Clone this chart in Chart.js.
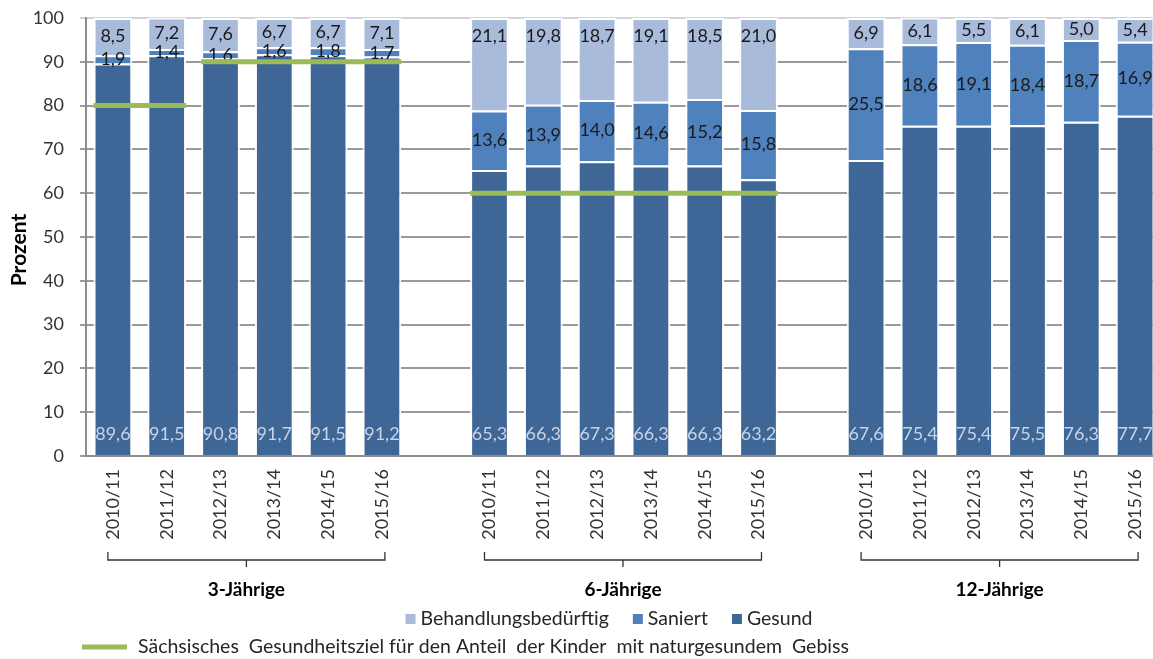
<!DOCTYPE html>
<html>
<head>
<meta charset="utf-8">
<script src="https://cdn.jsdelivr.net/npm/chart.js@4.4.0/dist/chart.umd.min.js"></script>
<style>
  html, body { margin: 0; padding: 0; background: #fff; overflow: hidden; }
  #wrap { width: 1153px; height: 659px; overflow: hidden; position: relative; }
  #box { width: 1162px; height: 659px; position: absolute; left: 0; top: 0; }
</style>
</head>
<body>
<div id="wrap"><div id="box"><canvas id="zahnChart"></canvas></div></div>
<script>
// Schuljahre je Altersgruppe, leere Kategorie als Abstand zwischen den Gruppen
const years = ['2010/11', '2011/12', '2012/13', '2013/14', '2014/15', '2015/16'];
const categories = [...years, '', ...years, '', ...years];

const groups = [
  { label: '3-Jährige', from: 0, to: 5 },
  { label: '6-Jährige', from: 7, to: 12 },
  { label: '12-Jährige', from: 14, to: 19 }
];

// Werte in Prozent
const gesund      = [89.6, 91.5, 90.8, 91.7, 91.5, 91.2, null, 65.3, 66.3, 67.3, 66.3, 66.3, 63.2, null, 67.6, 75.4, 75.4, 75.5, 76.3, 77.7];
const saniert     = [1.9, 1.4, 1.6, 1.6, 1.8, 1.7, null, 13.6, 13.9, 14.0, 14.6, 15.2, 15.8, null, 25.5, 18.6, 19.1, 18.4, 18.7, 16.9];
const behandlung  = [8.5, 7.2, 7.6, 6.7, 6.7, 7.1, null, 21.1, 19.8, 18.7, 19.1, 18.5, 21.0, null, 6.9, 6.1, 5.5, 6.1, 5.0, 5.4];

// Sächsisches Gesundheitsziel (naturgesundes Gebiss)
const ziel = [80, 80, 90, 90, 90, 90, null, 60, 60, 60, 60, 60, 60, null, null, null, null, null, null, null];

const yTicks = [0, 10, 20, 30, 40, 50, 60, 70, 80, 90, 100];

const FONT = 'Lato, "Open Sans", sans-serif';
const colors = {
  behandlung: '#a9bbdb',
  saniert: '#4f81bd',
  gesund: '#3e6697',
  ziel: '#9bbb59'
};

function fmt(v) {
  return v.toFixed(1).replace('.', ',');
}

// Beschriftung der Balkensegmente
const labelPlugin = {
  id: 'segmentLabels',
  afterDatasetsDraw(chart) {
    const ctx = chart.ctx;
    ctx.save();
    ctx.font = '18px ' + FONT;
    ctx.textAlign = 'center';
    ctx.textBaseline = 'middle';
    chart.data.datasets.forEach((ds, di) => {
      const meta = chart.getDatasetMeta(di);
      meta.data.forEach((bar, i) => {
        const v = ds.data[i];
        if (v == null) return;
        const { x, y, base } = bar.getProps(['x', 'y', 'base'], true);
        let ty;
        if (ds.key === 'gesund') {
          ctx.fillStyle = '#c9d3e6';
          ty = base - 21;
        } else if (ds.key === 'saniert') {
          ctx.fillStyle = '#1a1a1a';
          ty = (y + base) / 2;
        } else {
          ctx.fillStyle = '#1a1a1a';
          ty = (base - y) > 36 ? y + 18 : (y + base) / 2;
        }
        ctx.fillText(fmt(v), x, ty);
      });
    });
    ctx.restore();
  }
};

// Zielwert-Linie über die Balkenbreite
const zielPlugin = {
  id: 'zielLinie',
  afterDatasetsDraw(chart) {
    const ctx = chart.ctx;
    const yScale = chart.scales.y;
    const meta = chart.getDatasetMeta(0);
    ctx.save();
    ctx.strokeStyle = colors.ziel;
    ctx.lineWidth = 5;
    let i = 0;
    while (i < ziel.length) {
      if (ziel[i] == null) { i++; continue; }
      let j = i;
      while (j + 1 < ziel.length && ziel[j + 1] === ziel[i]) j++;
      const b1 = meta.data[i], b2 = meta.data[j];
      const x1 = b1.x - b1.width / 2;
      const x2 = b2.x + b2.width / 2;
      const yy = yScale.getPixelForValue(ziel[i]);
      ctx.beginPath();
      ctx.moveTo(x1, yy);
      ctx.lineTo(x2, yy);
      ctx.stroke();
      i = j + 1;
    }
    ctx.restore();
  }
};

// Gruppenklammern, Achsentitel und Legende
const extrasPlugin = {
  id: 'extras',
  afterDraw(chart) {
    const ctx = chart.ctx;
    const xs = chart.scales.x;
    ctx.save();

    // Achsentitel
    ctx.save();
    ctx.translate(19, 250);
    ctx.rotate(-Math.PI / 2);
    ctx.font = 'bold 21px ' + FONT;
    ctx.fillStyle = '#000';
    ctx.textAlign = 'center';
    ctx.textBaseline = 'middle';
    ctx.fillText('Prozent', 0, 0);
    ctx.restore();

    // Klammern unter den Gruppen
    ctx.strokeStyle = '#333';
    ctx.lineWidth = 1.3;
    ctx.font = 'bold 19px ' + FONT;
    ctx.fillStyle = '#000';
    ctx.textAlign = 'center';
    ctx.textBaseline = 'middle';
    groups.forEach(g => {
      const x1 = xs.getPixelForValue(g.from) - 5;
      const x2 = xs.getPixelForValue(g.to) + 3;
      const mid = (x1 + x2) / 2;
      ctx.beginPath();
      ctx.moveTo(x1, 552);
      ctx.lineTo(x1, 560);
      ctx.lineTo(x2, 560);
      ctx.lineTo(x2, 552);
      ctx.moveTo(mid, 560);
      ctx.lineTo(mid, 567);
      ctx.stroke();
      ctx.fillText(g.label, mid, 590);
    });

    // Legende Zeile 1
    const items = [
      { text: 'Behandlungsbedürftig', color: colors.behandlung },
      { text: 'Saniert', color: colors.saniert },
      { text: 'Gesund', color: colors.gesund }
    ];
    ctx.font = '19.5px ' + FONT;
    ctx.textAlign = 'left';
    ctx.fillStyle = '#262626';
    const gap = 24;
    let total = 0;
    items.forEach((it, k) => {
      it.w = ctx.measureText(it.text).width;
      total += 10 + 5 + it.w + (k < items.length - 1 ? gap : 0);
    });
    let lx = 609 - total / 2;
    items.forEach(it => {
      ctx.fillStyle = it.color;
      ctx.fillRect(lx, 614, 10, 10);
      ctx.fillStyle = '#262626';
      ctx.fillText(it.text, lx + 15, 619);
      lx += 15 + it.w + gap;
    });

    // Legende Zeile 2
    ctx.strokeStyle = colors.ziel;
    ctx.lineWidth = 5;
    ctx.beginPath();
    ctx.moveTo(82, 647);
    ctx.lineTo(127, 647);
    ctx.stroke();
    ctx.fillStyle = '#262626';
    ctx.fillText('Sächsisches  Gesundheitsziel für den Anteil  der Kinder  mit naturgesundem  Gebiss', 138, 647);

    ctx.restore();
  }
};

const ctx = document.getElementById('zahnChart').getContext('2d');
new Chart(ctx, {
  type: 'bar',
  data: {
    labels: categories,
    datasets: [
      { key: 'gesund', label: 'Gesund', data: gesund, backgroundColor: colors.gesund },
      { key: 'saniert', label: 'Saniert', data: saniert, backgroundColor: colors.saniert },
      { key: 'behandlung', label: 'Behandlungsbedürftig', data: behandlung, backgroundColor: colors.behandlung }
    ]
  },
  options: {
    responsive: true,
    maintainAspectRatio: false,
    animation: false,
    layout: { padding: { left: 0, right: 0, top: 18, bottom: 0 } },
    datasets: {
      bar: {
        barPercentage: 0.72,
        categoryPercentage: 1,
        borderColor: '#ffffff',
        borderWidth: 2
      }
    },
    scales: {
      x: {
        stacked: true,
        grid: { display: false, drawTicks: false },
        border: { display: true, color: '#8c8c8c', width: 2 },
        ticks: {
          autoSkip: false,
          maxRotation: 90,
          minRotation: 90,
          padding: 13,
          color: '#333',
          font: { family: FONT, size: 18 }
        },
        afterFit: s => {
          s.height = 203;
          s.paddingLeft = 0;
          s.paddingRight = 0;
        }
      },
      y: {
        stacked: true,
        min: 0,
        max: 100,
        afterBuildTicks: s => { s.ticks = yTicks.map(v => ({ value: v })); },
        grid: {
          color: c => c.tick && c.tick.value === 100 ? '#d4d4d4' : '#9a9a9a',
          lineWidth: 2,
          tickLength: 6
        },
        border: { display: true, color: '#8c8c8c', width: 2 },
        ticks: {
          padding: 16,
          color: '#333',
          font: { family: FONT, size: 18 }
        },
        afterFit: s => {
          s.width = 86;
          s.paddingTop = 0;
          s.paddingBottom = 0;
        }
      }
    },
    plugins: {
      legend: { display: false },
      tooltip: { enabled: false }
    }
  },
  plugins: [labelPlugin, zielPlugin, extrasPlugin]
});
</script>
</body>
</html>
